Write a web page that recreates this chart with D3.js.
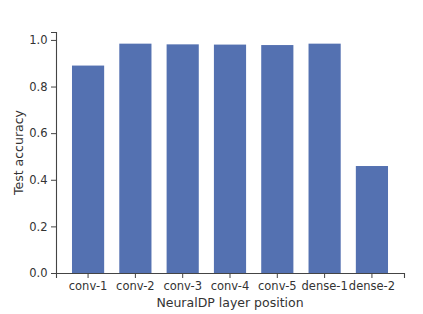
<!DOCTYPE html>
<html>
<head>
<meta charset="utf-8">
<script src="https://cdn.jsdelivr.net/npm/d3@7"></script>
<style>
  body { margin: 0; background: #fff; }
  text { font-family: "DejaVu Sans", sans-serif; }
</style>
</head>
<body>
<div id="chart"></div>
<script>
// chart data
const layers = ['conv-1', 'conv-2', 'conv-3', 'conv-4', 'conv-5', 'dense-1', 'dense-2'];
const accuracy = [0.890, 0.984, 0.981, 0.980, 0.978, 0.984, 0.459];
const yTicks = [0, 0.2, 0.4, 0.6, 0.8, 1.0];

const W = 423, H = 314;
const margin = {top: 32, right: 19, bottom: 41, left: 56};
const width = W - margin.left - margin.right;
const height = H - margin.top - margin.bottom;

const svg = d3.select('#chart')
  .append('svg')
  .attr('width', W)
  .attr('height', H)
  .append('g')
  .attr('transform', `translate(${margin.left},${margin.top})`);

const x = d3.scaleBand()
  .domain(layers)
  .range([0, width])
  .paddingInner(0.32)
  .paddingOuter(0.338);

const y = d3.scaleLinear()
  .domain([0, 1.034])
  .range([height, 0]);

// bars
svg.append('g')
  .selectAll('rect')
  .data(layers)
  .enter()
  .append('rect')
  .attr('x', d => x(d))
  .attr('y', (d, i) => y(accuracy[i]))
  .attr('width', x.bandwidth())
  .attr('height', (d, i) => y(0) - y(accuracy[i]))
  .attr('fill', '#5471b1');

const axisColor = '#444';

// y axis
const yAxis = svg.append('g')
  .call(d3.axisLeft(y).tickValues(yTicks).tickFormat(d3.format('.1f')).tickSize(5).tickPadding(3.5));
// x axis
const xAxis = svg.append('g')
  .attr('transform', `translate(0,${height})`)
  .call(d3.axisBottom(x).tickSize(5).tickPadding(3.5));

[yAxis, xAxis].forEach(a => {
  a.select('.domain').attr('stroke', axisColor).attr('stroke-width', 1.1);
  a.selectAll('.tick line').attr('stroke', axisColor).attr('stroke-width', 1);
  a.selectAll('.tick text')
    .style('font-size', '11.5px')
    .style('font-family', '"DejaVu Sans", sans-serif')
    .attr('fill', '#333');
});

// axis labels
svg.append('text')
  .attr('x', width / 2)
  .attr('y', height + 34)
  .attr('text-anchor', 'middle')
  .style('font-size', '12.5px')
  .attr('fill', '#333')
  .text('NeuralDP layer position');

svg.append('text')
  .attr('transform', `translate(${-33},${height / 2}) rotate(-90)`)
  .attr('text-anchor', 'middle')
  .style('font-size', '12.5px')
  .attr('fill', '#333')
  .text('Test accuracy');
</script>
</body>
</html>
